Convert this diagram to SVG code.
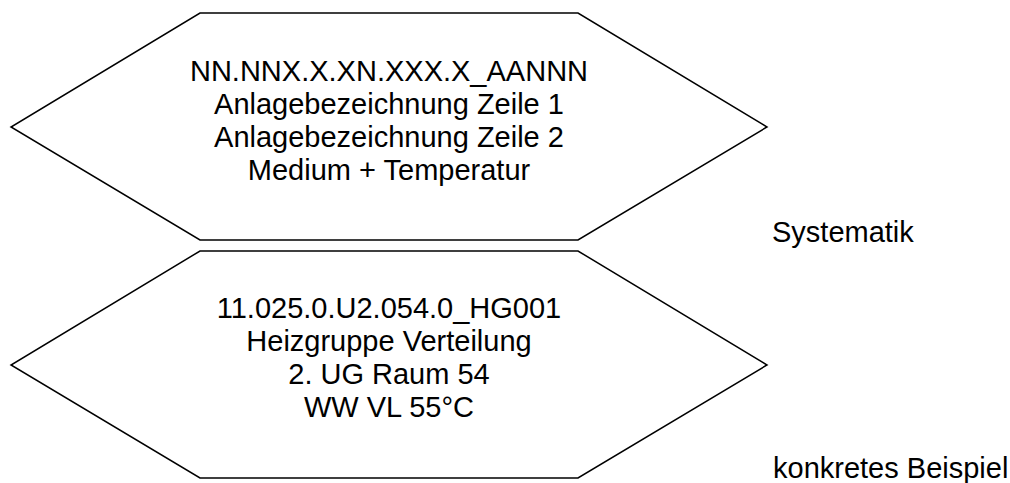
<svg xmlns="http://www.w3.org/2000/svg" width="1010" height="483" viewBox="0 0 1010 483">
<style>
.hex{fill:#ffffff;stroke:#000000;stroke-width:1.5;stroke-linejoin:miter}
.t{font-family:"Liberation Sans",Arial,sans-serif;font-size:29px;fill:#000000}
.c{text-anchor:middle}
</style>
<rect width="1010" height="483" fill="#ffffff"/>
<g id="connectors"/>
<g id="node-systematik">
<polygon class="hex" points="200,13 578,13 767,127 578,240 200,240 11,127"/>
<text class="t c" x="389" y="81">NN.NNX.X.XN.XXX.X_AANNN</text>
<text class="t c" x="389" y="114">Anlagebezeichnung Zeile 1</text>
<text class="t c" x="389" y="147">Anlagebezeichnung Zeile 2</text>
<text class="t c" x="389" y="180">Medium + Temperatur</text>
</g>
<g id="node-beispiel">
<polygon class="hex" points="200,251 578,251 767,365 578,478 200,478 11,365"/>
<text class="t c" x="389" y="318">11.025.0.U2.054.0_HG001</text>
<text class="t c" x="389" y="351">Heizgruppe Verteilung</text>
<text class="t c" x="389" y="384">2. UG Raum 54</text>
<text class="t c" x="389" y="417">WW VL 55°C</text>
</g>
<g id="label-systematik">
<text class="t" x="772" y="242">Systematik</text>
</g>
<g id="label-beispiel">
<text class="t" x="773" y="478">konkretes Beispiel</text>
</g>
</svg>
